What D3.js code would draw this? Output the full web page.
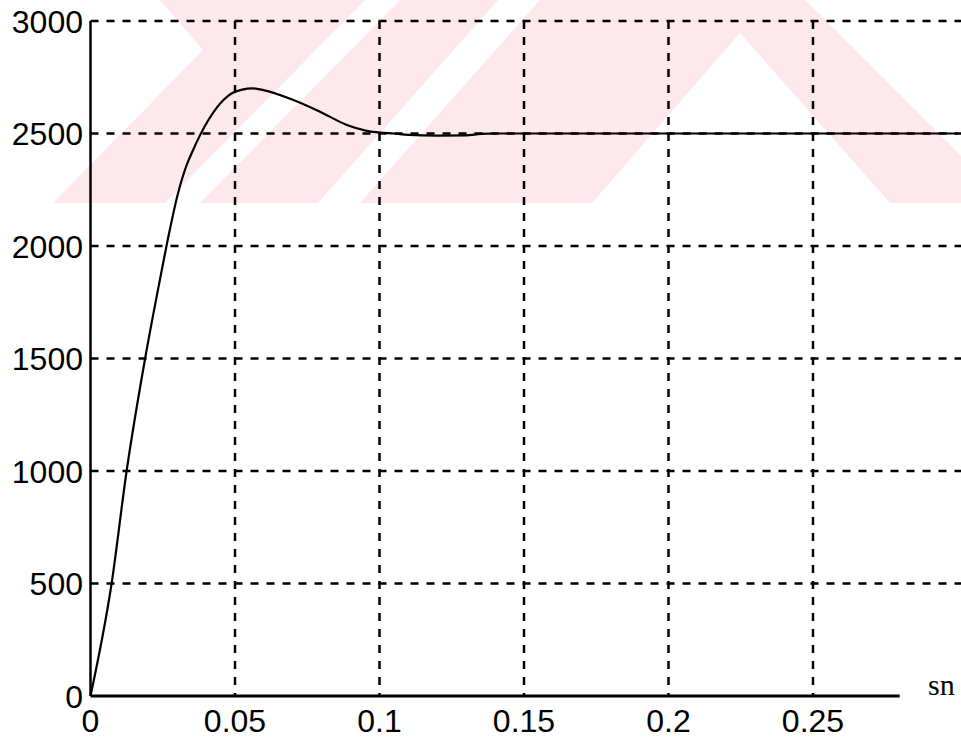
<!DOCTYPE html>
<html>
<head>
<meta charset="utf-8">
<script src="https://cdn.jsdelivr.net/npm/d3@7"></script>
<style>
  html, body { margin: 0; padding: 0; background: #fff; }
  svg { display: block; }
</style>
</head>
<body>
<div id="chart"></div>
<script>
// time (s) and speed
const times = [0, 0.0073, 0.0125, 0.0189, 0.024, 0.0264, 0.0304, 0.033, 0.035, 0.038, 0.0408, 0.046, 0.0489, 0.0525, 0.0558, 0.0598, 0.0702, 0.0794, 0.0887, 0.0956, 0.1002, 0.105, 0.11, 0.12, 0.13, 0.135, 0.14, 0.2, 0.25, 0.3];
const speeds = [0, 500, 1000, 1500, 1849, 2007, 2240, 2350, 2412, 2495, 2560, 2649, 2679, 2695, 2701, 2693, 2649, 2597, 2538, 2512, 2504, 2500, 2494, 2491, 2492, 2498, 2500, 2500, 2500, 2500];
const xTicks = [0, 0.05, 0.1, 0.15, 0.2, 0.25];
const xTickLabels = ["0", "0.05", "0.1", "0.15", "0.2", "0.25"];
const yTicks = [0, 500, 1000, 1500, 2000, 2500, 3000];
const xAxisEnd = 0.28;
const xLabel = "sn";

const width = 961, height = 740;

const svg = d3.select("#chart").append("svg")
    .attr("width", width)
    .attr("height", height);

svg.append("rect").attr("width", width).attr("height", height).attr("fill", "#fff");

// faded watermark of the scanned page (decoration only)
const wm = svg.append("g");
wm.append("polygon")
    .attr("points", "160,0 203,50 53,203 1008,203 805,0")
    .attr("fill", "#fde8eb");
const cuts = [
    "165,203 200,203 400,0 365,0",
    "318,203 360,203 540,0 498,0",
    "740,33 592,203 890,203"
];
wm.selectAll("polygon.cut")
    .data(cuts)
    .join("polygon")
    .attr("class", "cut")
    .attr("points", d => d)
    .attr("fill", "#fff");

const x = d3.scaleLinear().domain([0, 0.3]).range([90.5, 957.5]);
const y = d3.scaleLinear().domain([0, 3000]).range([696, 21]);

// grid
const grid = svg.append("g")
    .attr("stroke", "#000")
    .attr("stroke-width", 2.5)
    .attr("stroke-dasharray", "8,8");

grid.selectAll("line.h")
    .data(yTicks.filter(d => d > 0))
    .join("line")
    .attr("class", "h")
    .attr("x1", x(0)).attr("x2", width)
    .attr("y1", d => y(d)).attr("y2", d => y(d));

grid.selectAll("line.v")
    .data(xTicks.filter(d => d > 0))
    .join("line")
    .attr("class", "v")
    .attr("x1", d => x(d)).attr("x2", d => x(d))
    .attr("y1", y(3000)).attr("y2", y(0));

// axes lines
svg.append("line")
    .attr("x1", x(0)).attr("x2", x(0))
    .attr("y1", y(0)).attr("y2", y(3000))
    .attr("stroke", "#000").attr("stroke-width", 2.5);

svg.append("line")
    .attr("x1", x(0)).attr("x2", x(xAxisEnd))
    .attr("y1", y(0)).attr("y2", y(0))
    .attr("stroke", "#000").attr("stroke-width", 3);

// curve
const line = d3.line()
    .x((d, i) => x(times[i]))
    .y(d => y(d))
    .curve(d3.curveMonotoneX);

svg.append("path")
    .datum(speeds)
    .attr("fill", "none")
    .attr("stroke", "#000")
    .attr("stroke-width", 2.2)
    .attr("d", line);

// tick labels
svg.append("g").selectAll("text")
    .data(yTicks)
    .join("text")
    .attr("x", 83)
    .attr("y", d => y(d))
    .attr("dy", "0.37em")
    .attr("text-anchor", "end")
    .style("font-family", "'Liberation Sans', Arial, sans-serif")
    .style("font-size", "32px")
    .text(d => d);

svg.append("g").selectAll("text")
    .data(xTicks)
    .join("text")
    .attr("x", d => x(d))
    .attr("y", 732)
    .attr("text-anchor", "middle")
    .style("font-family", "'Liberation Sans', Arial, sans-serif")
    .style("font-size", "32px")
    .text((d, i) => xTickLabels[i]);

svg.append("text")
    .attr("x", 928)
    .attr("y", 695)
    .style("font-family", "'Liberation Serif', 'Times New Roman', serif")
    .style("font-size", "30px")
    .text(xLabel);
</script>
</body>
</html>
